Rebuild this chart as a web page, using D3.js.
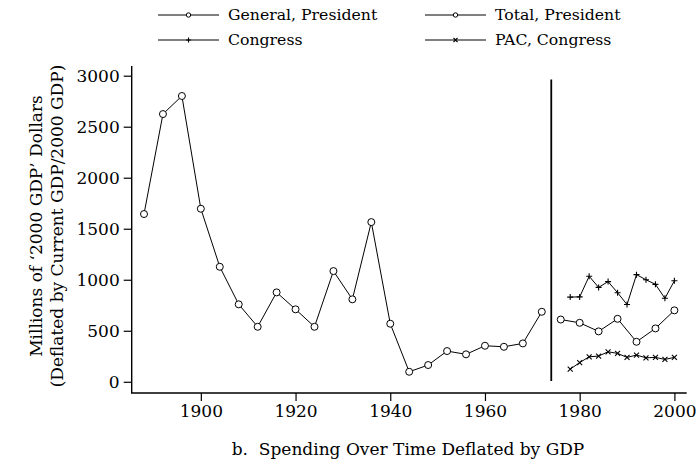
<!DOCTYPE html>
<html><head><meta charset="utf-8">
<script src="https://cdn.jsdelivr.net/npm/d3@7"></script>
<style>body{margin:0;background:#fff}svg{display:block}text{font-family:"DejaVu Serif",serif;fill:#000}</style>
</head><body><svg id="c" width="697" height="466"></svg>
<script>
// General, President (1888–1972)
const genYears = [1888,1892,1896,1900,1904,1908,1912,1916,1920,1924,1928,1932,1936,1940,1944,1948,1952,1956,1960,1964,1968,1972];
const genValues = [1644,2624,2801,1696,1127,759,539,876,710,539,1085,808,1565,569,98,164,301,269,353,343,376,686];
// Total, President (1976–2000)
const totYears = [1976,1980,1984,1988,1992,1996,2000];
const totValues = [610,578,494,617,392,523,700];
// Congress (1978–2000)
const conYears = [1978,1980,1982,1984,1986,1988,1990,1992,1994,1996,1998,2000];
const conValues = [830,832,1034,925,982,873,757,1050,1000,955,818,990];
// PAC, Congress
const pacValues = [124,188,245,252,294,278,239,262,235,239,219,239];
const dividerYear = 1974;
const dividerRange = [8, 2962];
const xTicks = [1900,1920,1940,1960,1980,2000];
const yTicks = [0,500,1000,1500,2000,2500,3000];
const legendLabels = ["General, President","Total, President","Congress","PAC, Congress"];
const yTitle = ["Millions of \u20182000 GDP\u2019 Dollars","(Deflated by Current GDP/2000 GDP)"];
const caption = "b.  Spending Over Time Deflated by GDP";

const svg = d3.select("#c");
const x = d3.scaleLinear().domain([1885.4, 2002.6]).range([131.7, 686.7]);
const y = d3.scaleLinear().domain([-110, 3095]).range([393, 66]);

// axes
const xa = svg.append("g").attr("transform","translate(0,393)")
  .call(d3.axisBottom(x).tickValues(xTicks).tickFormat(d3.format("d")).tickSizeOuter(0).tickSize(8).tickPadding(4));
const ya = svg.append("g").attr("transform","translate(131.7,0)")
  .call(d3.axisLeft(y).tickValues(yTicks).tickFormat(d3.format("d")).tickSizeOuter(0).tickSize(8).tickPadding(4));
[xa,ya].forEach(g=>{
  g.select(".domain").remove();
  g.selectAll(".tick line").attr("stroke","#000").attr("stroke-width",1.2);
  g.selectAll("text").attr("font-size",17).attr("font-family","DejaVu Serif");
});
ya.selectAll("text").attr("dy","0.35em");
svg.append("path").attr("d",`M${x.range()[0]},${y.range()[1]}V${y.range()[0]}H${x.range()[1]}`)
  .attr("fill","none").attr("stroke","#000").attr("stroke-width",1.4);

const line = d3.line().x(d=>x(d[0])).y(d=>y(d[1]));
function series(years, vals){ return years.map((yr,i)=>[yr, vals[i]]); }
const gen = series(genYears, genValues), tot = series(totYears, totValues),
      con = series(conYears, conValues), pac = series(conYears, pacValues);

[gen,tot,con,pac].forEach(s=>{
  svg.append("path").datum(s).attr("d",line).attr("fill","none").attr("stroke","#000").attr("stroke-width",1);
});

function circles(s, r){
  svg.append("g").selectAll("circle").data(s).join("circle")
    .attr("cx",d=>x(d[0])).attr("cy",d=>y(d[1])).attr("r",r)
    .attr("fill","#fff").attr("stroke","#000").attr("stroke-width",1);
}
circles(gen,3.5); circles(tot,3.5);
function plus(g, cx, cy, s){
  g.append("path").attr("d",`M${cx-s},${cy}H${cx+s}M${cx},${cy-s}V${cy+s}`).attr("stroke","#000").attr("stroke-width",1.1);
}
function cross(g, cx, cy, s){
  g.append("path").attr("d",`M${cx-s},${cy-s}L${cx+s},${cy+s}M${cx-s},${cy+s}L${cx+s},${cy-s}`).attr("stroke","#000").attr("stroke-width",1.1);
}
const gm = svg.append("g");
con.forEach(d=>plus(gm, x(d[0]), y(d[1]), 3));
pac.forEach(d=>cross(gm, x(d[0]), y(d[1]), 2.5));

// divider
svg.append("line").attr("x1",x(dividerYear)).attr("x2",x(dividerYear))
  .attr("y1",y(dividerRange[0])).attr("y2",y(dividerRange[1]))
  .attr("stroke","#000").attr("stroke-width",1.8);

// legend
const lg = svg.append("g");
const lpos = [[158,15],[425,15],[158,40],[425,40]];
legendLabels.forEach((lab,i)=>{
  const [lx,ly] = lpos[i];
  lg.append("line").attr("x1",lx).attr("x2",lx+61).attr("y1",ly).attr("y2",ly).attr("stroke","#000").attr("stroke-width",1);
  const mx = lx+30.5;
  if(i<2) lg.append("circle").attr("cx",mx).attr("cy",ly).attr("r",2.2).attr("fill","#fff").attr("stroke","#000");
  else if(i===2) plus(lg,mx,ly,2.5);
  else cross(lg,mx,ly,2);
  lg.append("text").attr("x",lx+70).attr("y",ly).attr("dy","0.35em").attr("font-size",15.7).text(lab);
});

// y title
const yt = svg.append("text").attr("transform","translate(0,226) rotate(-90)").attr("text-anchor","middle").attr("font-size",17);
yt.append("tspan").attr("x",0).attr("y",42).text(yTitle[0]);
yt.append("tspan").attr("x",0).attr("y",63).text(yTitle[1]);

// caption
svg.append("text").attr("x",408).attr("y",455).attr("text-anchor","middle").attr("font-size",17).style("white-space","pre").text(caption);
</script></body></html>
